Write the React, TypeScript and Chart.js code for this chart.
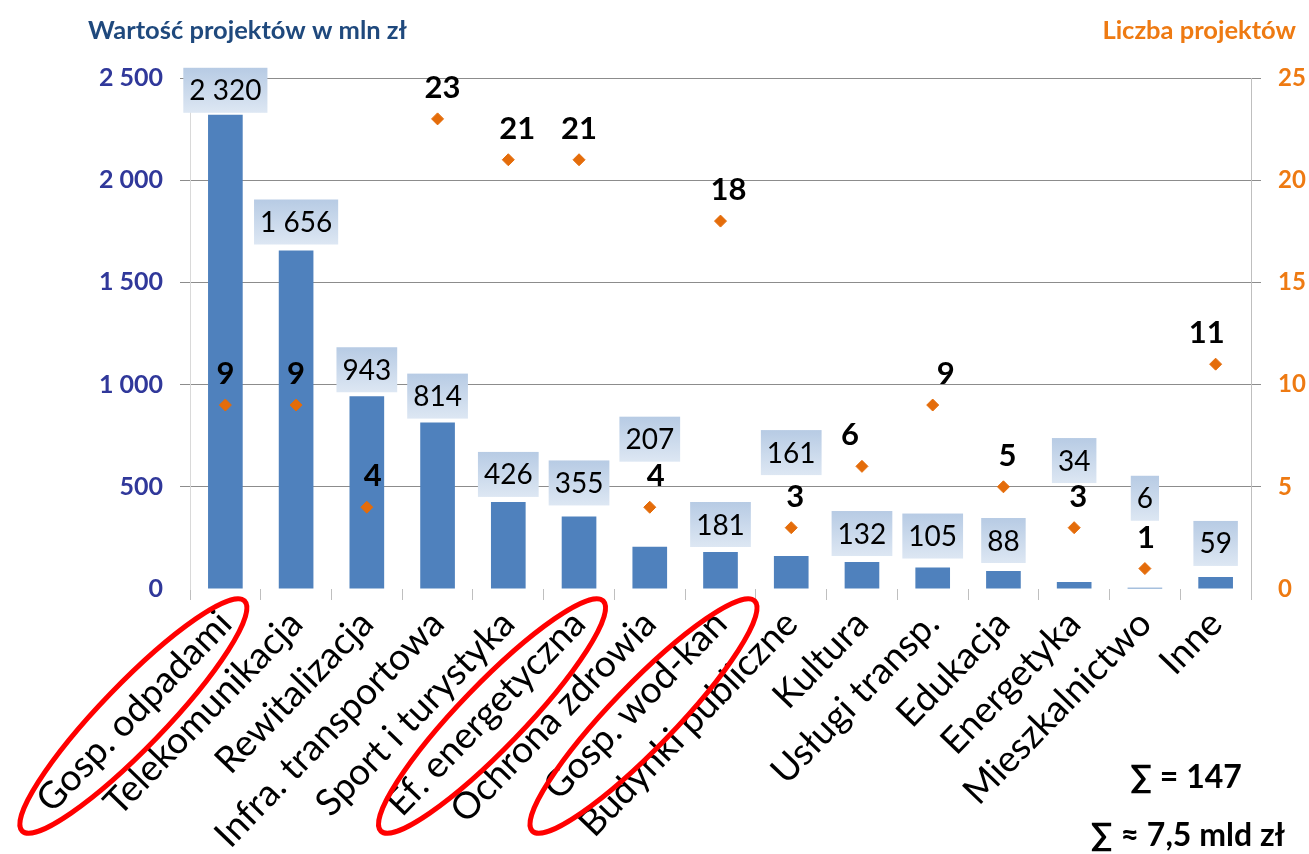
import React, { useEffect, useRef } from 'react';
import { Chart, registerables } from 'chart.js';

Chart.register(...registerables);

const FONT = "Lato, 'DejaVu Sans', sans-serif";

const categories = [
  'Gosp. odpadami',
  'Telekomunikacja',
  'Rewitalizacja',
  'Infra. transportowa',
  'Sport i turystyka',
  'Ef. energetyczna',
  'Ochrona zdrowia',
  'Gosp. wod-kan',
  'Budynki publiczne',
  'Kultura',
  'Usługi transp.',
  'Edukacja',
  'Energetyka',
  'Mieszkalnictwo',
  'Inne',
];
const projectValues = [2320, 1656, 943, 814, 426, 355, 207, 181, 161, 132, 105, 88, 34, 6, 59];
const projectCounts = [9, 9, 4, 23, 21, 21, 4, 18, 3, 6, 9, 5, 3, 1, 11];
const valueTicks = [0, 500, 1000, 1500, 2000, 2500];
const countTicks = [0, 5, 10, 15, 20, 25];
const highlightedCategories = [0, 5, 7];

const leftTitle = 'Wartość projektów w mln zł';
const rightTitle = 'Liczba projektów';
const sumCountText = '∑ = 147';
const sumValueText = '∑ ≈ 7,5 mld zł';

// label placement tweaks (pixels)
const valueLabelGap = [2, 6, 4, 4, 5, 11, 85, 5, 81, 6, 9, 8, 99, 67, 11];
const countLabelShift = [0, 0, 6, 5, 9, 0, 6, 8, 4, -12, 13, 4, 4, 1, -9];
const ellipseShiftX = [-92, -87, -77];

const fmt = (v: number) => String(v).replace(/\B(?=(\d{3})+(?!\d))/g, ' ');

const ROT_DEG = 46;
const X_PAD = 2;
const X_TICKLEN = 11;
const X_FONT_SIZE = 37;

const overlayPlugin = {
  id: 'overlay',
  afterDatasetsDraw(chart: any) {
    const ctx = chart.ctx as CanvasRenderingContext2D;
    const bars = chart.getDatasetMeta(1).data;
    const pts = chart.getDatasetMeta(0).data;
    ctx.save();
    ctx.font = `28px ${FONT}`;
    ctx.textAlign = 'center';
    ctx.textBaseline = 'middle';
    bars.forEach((bar: any, i: number) => {
      const text = fmt(projectValues[i]);
      const w = ctx.measureText(text).width + 12;
      const h = 45;
      const bottom = bar.y - valueLabelGap[i];
      const top = bottom - h;
      const g = ctx.createLinearGradient(0, top, 0, bottom);
      g.addColorStop(0, '#B7CBE4');
      g.addColorStop(1, '#DDE7F3');
      ctx.fillStyle = g;
      ctx.fillRect(bar.x - w / 2, top, w, h);
      ctx.fillStyle = '#000';
      ctx.fillText(text, bar.x, top + h / 2 + 1);
    });
    ctx.font = `bold 31px ${FONT}`;
    pts.forEach((p: any, i: number) => {
      ctx.fillStyle = '#000';
      ctx.fillText(String(projectCounts[i]), p.x + countLabelShift[i], p.y - 31);
    });
    ctx.restore();
  },
  afterDraw(chart: any) {
    const ctx = chart.ctx as CanvasRenderingContext2D;
    const xScale = chart.scales.x;
    ctx.save();
    ctx.font = `bold 25.5px ${FONT}`;
    ctx.textBaseline = 'middle';
    ctx.textAlign = 'left';
    ctx.fillStyle = '#1F497D';
    ctx.fillText(leftTitle, 88, 31);
    ctx.textAlign = 'right';
    ctx.fillStyle = '#EE7A12';
    ctx.fillText(rightTitle, 1296, 31);

    const a = (46 * Math.PI) / 180;
    highlightedCategories.forEach((idx, k) => {
      const cx = xScale.getPixelForTick(idx) + ellipseShiftX[k];
      const cy = xScale.top + 127;
      ctx.beginPath();
      ctx.ellipse(cx, cy, 160, 32, -a, 0, Math.PI * 2);
      ctx.strokeStyle = '#FF0000';
      ctx.lineWidth = 5;
      ctx.stroke();
    });

    ctx.fillStyle = '#000';
    ctx.font = `bold 32px ${FONT}`;
    ctx.textAlign = 'center';
    ctx.fillText(sumCountText, 1186, 778);
    ctx.fillText(sumValueText, 1188, 836);
    ctx.restore();
  },
};

export default function App() {
  const ref = useRef<HTMLCanvasElement | null>(null);
  useEffect(() => {
    if (!ref.current) return;
    const gridColor = (c: any) =>
      c.tick && c.tick.value === 0 ? 'rgba(0,0,0,0)' : '#8C8C8C';
    const chart = new Chart(ref.current, {
      type: 'bar',
      data: {
        labels: categories,
        datasets: [
          {
            type: 'line',
            label: rightTitle,
            data: projectCounts,
            yAxisID: 'y1',
            showLine: false,
            pointStyle: 'rectRot',
            pointRadius: 6,
            pointBackgroundColor: '#E46C0A',
            pointBorderColor: '#E46C0A',
            order: 0,
          } as any,
          {
            type: 'bar',
            label: leftTitle,
            data: projectValues,
            yAxisID: 'y',
            backgroundColor: '#4F81BD',
            barPercentage: 0.49,
            categoryPercentage: 1,
            order: 1,
          },
        ],
      },
      options: {
        responsive: false,
        animation: false,
        layout: { padding: { top: 78, left: 0, right: 0, bottom: 0 } },
        plugins: { legend: { display: false }, tooltip: { enabled: false } },
        scales: {
          x: {
            offset: true,
            grid: {
              offset: true,
              drawOnChartArea: false,
              drawTicks: true,
              tickLength: X_TICKLEN,
              color: '#BFBFBF',
            },
            border: { display: false },
            ticks: {
              color: '#000',
              font: { family: FONT, size: X_FONT_SIZE },
              minRotation: ROT_DEG,
              maxRotation: ROT_DEG,
              padding: X_PAD,
              autoSkip: false,
            },
            afterFit(s: any) {
              s.height = 265;
            },
          },
          y: {
            position: 'left',
            min: 0,
            max: 2500,
            afterBuildTicks(s: any) {
              s.ticks = valueTicks.map((v) => ({ value: v }));
            },
            ticks: {
              color: '#30389A',
              font: { family: FONT, size: 25, weight: 'bold' },
              padding: 17,
              callback: (v: any) => fmt(Number(v)),
            },
            grid: { color: gridColor, tickLength: 10, lineWidth: 1 },
            border: { color: '#D9D9D9' },
            afterFit(s: any) {
              s.width = 190;
            },
          },
          y1: {
            position: 'right',
            min: 0,
            max: 25,
            afterBuildTicks(s: any) {
              s.ticks = countTicks.map((v) => ({ value: v }));
            },
            ticks: {
              color: '#EE7A12',
              font: { family: FONT, size: 24, weight: 'bold' },
              padding: 17,
            },
            grid: { drawOnChartArea: false, color: gridColor, tickLength: 10 },
            border: { color: '#BFBFBF' },
            afterFit(s: any) {
              s.width = 58;
            },
          },
        },
      } as any,
      plugins: [overlayPlugin],
    });
    return () => chart.destroy();
  }, []);
  return (
    <div style={{ position: 'fixed', left: 0, top: 0, width: 1309, height: 854, background: '#fff' }}>
      <canvas ref={ref} width={1309} height={854} style={{ display: 'block' }} />
    </div>
  );
}
